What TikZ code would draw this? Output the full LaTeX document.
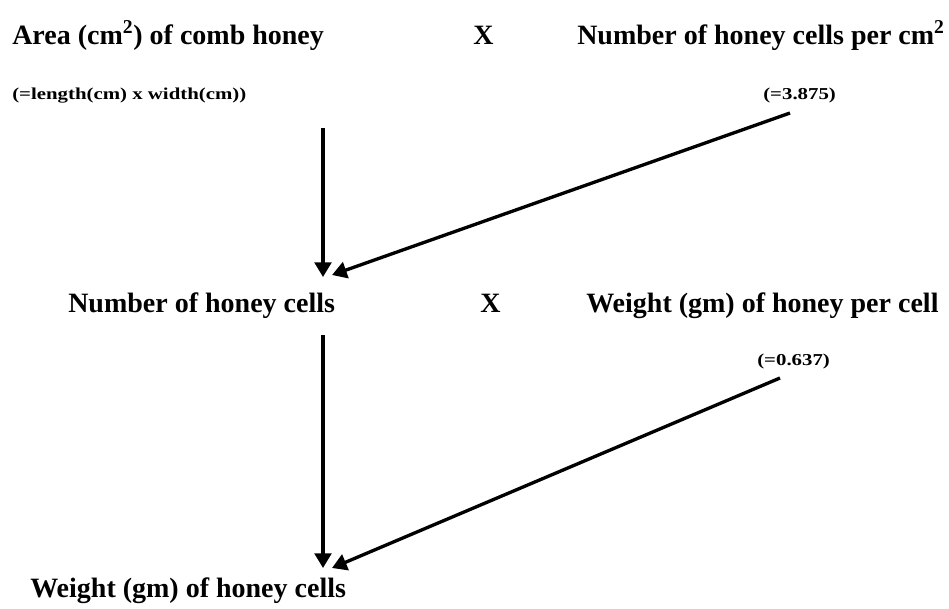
\documentclass[tikz,border=0pt]{standalone}
\usepackage{fontspec}
\usepackage{graphicx}
\setmainfont{Liberation Serif}
\usetikzlibrary{arrows.meta}
\newcommand{\hbig}{\bfseries\fontsize{21}{24}\selectfont}
\newcommand{\hsmall}{\bfseries\fontsize{12.5}{14}\selectfont}
\newcommand{\hwide}[1]{\scalebox{1.25}[1]{#1}}
\newcommand{\hsq}{\textsuperscript{2}}
\tikzset{
  big/.style={font=\hbig,inner sep=0pt,anchor=base west},
  small/.style={font=\hsmall,inner sep=0pt,anchor=base west},
  flow/.style={line width=2.5pt,-{Triangle[length=11pt,width=12.5pt]}}}

\begin{document}
\begin{tikzpicture}[x=0.75pt,y=-0.75pt]
  \useasboundingbox (0,0) rectangle (949,608);
  \node[big] (area) at (12,44) {Area (cm\hsq) of comb honey};
  \node[big] (times1) at (473,44) {X};
  \node[big] (percm) at (577,44) {Number of honey cells per cm\hsq};
  \node[small] (areaeq) at (12,99) {\hwide{(=length(cm) x width(cm))}};
  \node[small] (percmval) at (763,99) {\hwide{(=3.875)}};
  \node[big] (cells) at (68,312) {Number of honey cells};
  \node[big] (times2) at (480,312) {X};
  \node[big] (wpc) at (586,312) {Weight (gm) of honey per cell};
  \node[small] (wpcval) at (757,365) {\hwide{(=0.637)}};
  \node[big] (weight) at (30,597) {Weight (gm) of honey cells};
  \coordinate (v1s) at (323,128);
  \coordinate (v1e) at (323,277);
  \coordinate (d1s) at (790,113);
  \coordinate (d1e) at (332,275);
  \coordinate (v2s) at (323,335);
  \coordinate (v2e) at (323,568);
  \coordinate (d2s) at (780,378);
  \coordinate (d2e) at (332,568);
  \draw[flow] (v1s) -- (v1e);
  \draw[flow] (d1s) -- (d1e);
  \draw[flow] (v2s) -- (v2e);
  \draw[flow] (d2s) -- (d2e);
\end{tikzpicture}
\end{document}
